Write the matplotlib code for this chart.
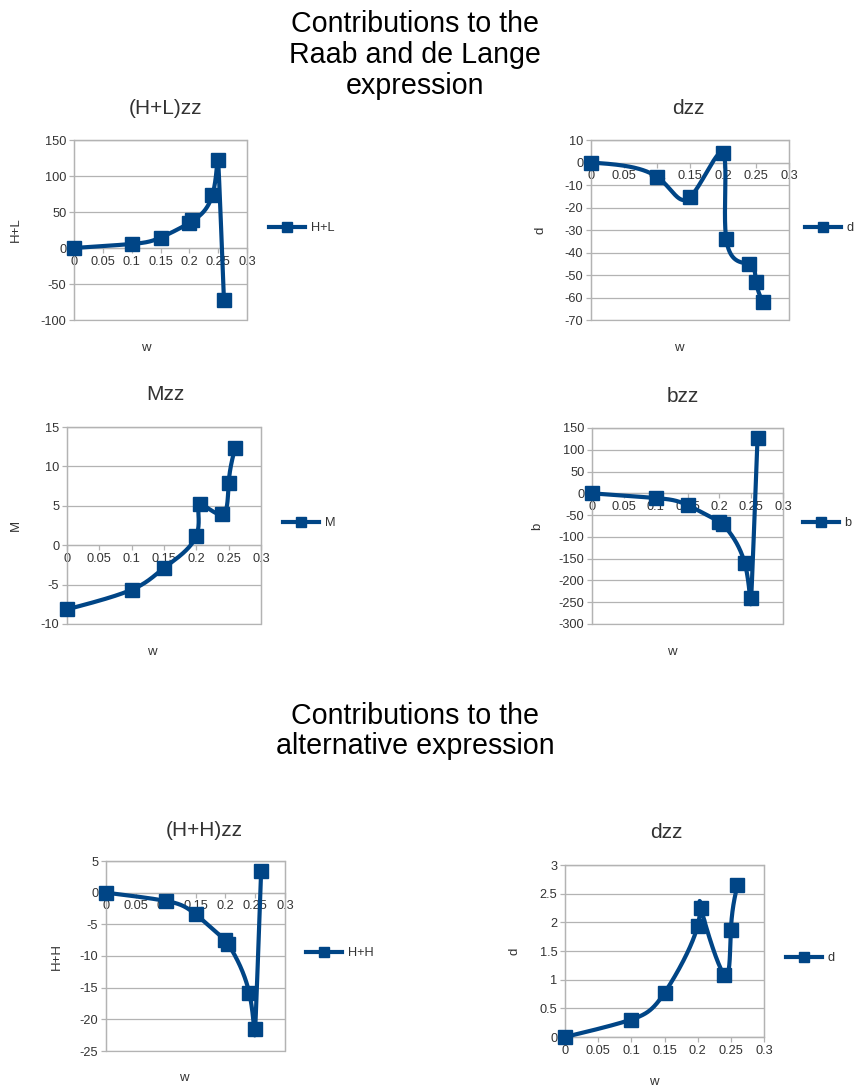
import numpy as np
import matplotlib
matplotlib.use("Agg")
import matplotlib.pyplot as plt
from matplotlib.ticker import FuncFormatter, MultipleLocator
from matplotlib.patches import Rectangle

plt.rcParams['font.family'] = ['Liberation Sans', 'DejaVu Sans']

# ---------------- data ----------------
w = [0, 0.1, 0.15, 0.2, 0.205, 0.24, 0.25, 0.26]
hl = [0, 5.6, 14.4, 34.7, 38.4, 73.6, 121.8, -71.8]
d_rdl = [0, -6.4, -15.4, 4.2, -34.2, -45.2, -53.0, -62.1]
m_vals = [-8.15, -5.65, -2.9, 1.2, 5.17, 3.9, 7.95, 12.37]
b_vals = [0, -10.8, -27, -65, -70, -161, -241, 127]
hh = [0, -1.3, -3.4, -7.5, -8.1, -15.8, -21.6, 3.4]
d_alt = [0, 0.305, 0.77, 1.94, 2.25, 1.09, 1.86, 2.65]

W, H = 856, 1088
BLUE = '#004586'
GRID = '#b3b3b3'
TXT = '#333333'

fig = plt.figure(figsize=(W / 100, H / 100), dpi=100)


def px_axes(l, t, r, b):
    return fig.add_axes([l / W, 1 - b / H, (r - l) / W, (b - t) / H])


def nat_spline(t, y, tt):
    n = len(t)
    h = np.diff(t)
    A = np.zeros((n, n))
    r = np.zeros(n)
    A[0, 0] = A[-1, -1] = 1
    for i in range(1, n - 1):
        A[i, i - 1] = h[i - 1]
        A[i, i] = 2 * (h[i - 1] + h[i])
        A[i, i + 1] = h[i]
        r[i] = 6 * ((y[i + 1] - y[i]) / h[i] - (y[i] - y[i - 1]) / h[i - 1])
    M = np.linalg.solve(A, r)
    idx = np.clip(np.searchsorted(t, tt, side='right') - 1, 0, n - 2)
    t0, t1 = t[idx], t[idx + 1]
    hi = t1 - t0
    a = (t1 - tt) / hi
    bb = (tt - t0) / hi
    return (a * y[idx] + bb * y[idx + 1]
            + ((a ** 3 - a) * M[idx] + (bb ** 3 - bb) * M[idx + 1]) * hi ** 2 / 6)


def smooth(x, y, per=80):
    # parametric natural cubic spline (uniform parameter), as in the source chart's
    # "cubic spline" line style
    x = np.asarray(x, float)
    y = np.asarray(y, float)
    t = np.arange(len(x), dtype=float)
    tt = np.linspace(0, t[-1], per * (len(x) - 1) + 1)
    return nat_spline(t, x, tt), nat_spline(t, y, tt)


fmt = FuncFormatter(lambda v, p: ('%g' % v) if abs(v) > 1e-9 else '0')


def make(box, x, y, ylim, ystep, title, title_xy, ylabel, ylabel_x, xlabel_xy,
         legend_label, legend_xy):
    l, t, r, b = box
    ax = px_axes(l, t, r, b)
    sx, sy = smooth(x, y)
    ax.plot(sx, sy, color=BLUE, lw=3.0, solid_capstyle='round', zorder=3, clip_on=False)
    ax.plot(x, y, ls='none', marker='s', ms=9.5, color=BLUE, zorder=4, clip_on=False)
    ax.set_xlim(0, 0.3)
    ax.set_ylim(*ylim)
    ax.xaxis.set_major_locator(MultipleLocator(0.05))
    ax.yaxis.set_major_locator(MultipleLocator(ystep))
    ax.xaxis.set_major_formatter(fmt)
    ax.yaxis.set_major_formatter(fmt)
    ax.grid(axis='y', color=GRID, lw=0.9)
    ax.set_axisbelow(True)
    for s in ['top', 'right', 'left']:
        ax.spines[s].set_color(GRID)
        ax.spines[s].set_linewidth(0.9)
    ax.spines['bottom'].set_position(('data', 0))
    ax.spines['bottom'].set_color(GRID)
    ax.spines['bottom'].set_linewidth(0.9)
    ax.add_patch(Rectangle((0, 0), 1, 1, transform=ax.transAxes, fill=False,
                           ec=GRID, lw=0.9, zorder=0.5, clip_on=False))
    ax.tick_params(axis='both', colors=GRID, labelcolor=TXT, labelsize=9.2,
                   length=3.5, width=0.9, direction='out')
    ax.tick_params(axis='x', pad=2)
    ax.tick_params(axis='y', pad=2)
    fig.text(title_xy[0] / W, 1 - title_xy[1] / H, title, ha='center', va='center',
             fontsize=15, color=TXT)
    fig.text(ylabel_x / W, 1 - ((t + b) / 2) / H, ylabel, rotation=90,
             ha='center', va='center', fontsize=9.5, color=TXT)
    fig.text(xlabel_xy[0] / W, 1 - xlabel_xy[1] / H, 'w', ha='center',
             va='center', fontsize=9.5, color=TXT)
    h, = ax.plot([], [], color=BLUE, lw=3.0, marker='s', ms=6.5)
    fig.legend([h], [legend_label], loc='center left',
               bbox_to_anchor=(legend_xy[0] / W, 1 - legend_xy[1] / H),
               frameon=False, fontsize=9.2, handlelength=2.8, handletextpad=0.45,
               borderpad=0, borderaxespad=0, labelcolor=TXT)
    return ax


make((74, 140, 247, 320), w, hl, (-100, 150), 50, '(H+L)zz', (165, 108), 'H+L', 16,
     (146, 348), 'H+L', (269, 228))
make((591, 140, 789, 320), w, d_rdl, (-70, 10), 10, 'dzz', (688, 108), 'd', 540,
     (679, 348), 'd', (805, 228))
make((67, 427, 261, 624), w, m_vals, (-10, 15), 5, 'Mzz', (165, 395), 'M', 16,
     (152, 652), 'M', (283, 523))
make((592, 428, 783, 624), w, b_vals, (-300, 150), 50, 'bzz', (683, 397), 'b', 537,
     (672, 652), 'b', (803, 523))
make((106, 861, 285, 1051), w, hh, (-25, 5), 5, '(H+H)zz', (204, 830), 'H+H', 57,
     (184, 1078), 'H+H', (306, 953))
make((565, 865, 764, 1037), w, d_alt, (0, 3), 0.5, 'dzz', (666, 833), 'd', 515,
     (654, 1082), 'd', (786, 958))

fig.text(415 / W, 1 - 55 / H, 'Contributions to the\nRaab and de Lange\nexpression',
         ha='center', va='center', fontsize=20.6, color='#000000', linespacing=1.12)
fig.text(415 / W, 1 - 731 / H, 'Contributions to the\nalternative expression',
         ha='center', va='center', fontsize=20.6, color='#000000', linespacing=1.12)

fig.savefig('out.png', dpi=100, facecolor='white')
